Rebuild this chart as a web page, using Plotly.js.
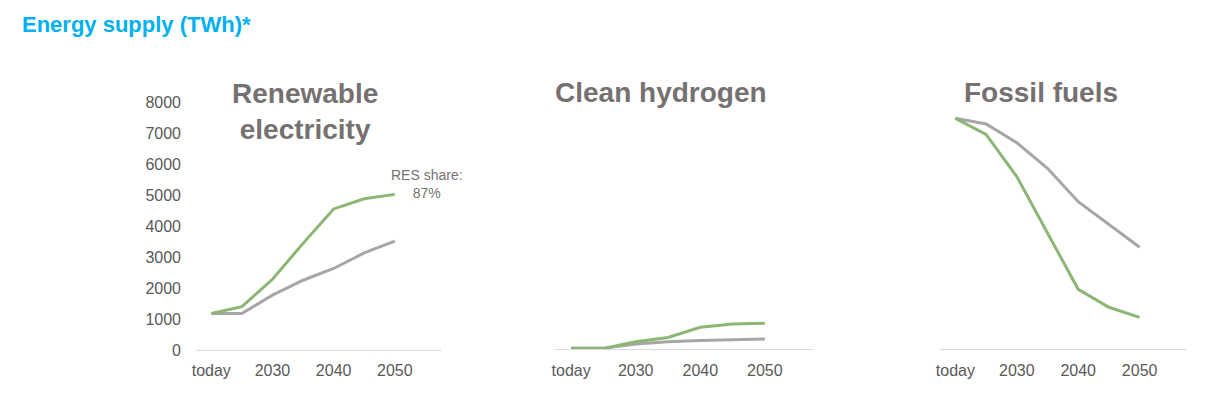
<!DOCTYPE html>
<html>
<head>
<meta charset="utf-8">
<script src="https://cdn.plot.ly/plotly-3.0.1.min.js"></script>
<style>html,body{margin:0;padding:0;background:#fff;}#chart{width:1221px;height:399px;}</style>
</head>
<body>
<div id="chart"></div>
<script>
const categories = ["today", "2025", "2030", "2035", "2040", "2045", "2050", " "];
const years = ["today", "2025", "2030", "2035", "2040", "2045", "2050"];
const tickLabels = ["today", "2030", "2040", "2050"];

const renewableGreen = [1180, 1400, 2280, 3440, 4550, 4880, 5020];
const renewableGrey  = [1180, 1180, 1770, 2250, 2630, 3130, 3510];
const hydrogenGreen  = [30, 30, 245, 380, 710, 815, 840];
const hydrogenGrey   = [30, 30, 170, 245, 280, 310, 335];
const fossilGreen    = [7450, 6935, 5570, 3740, 1935, 1355, 1030];
const fossilGrey     = [7450, 7270, 6665, 5840, 4760, 4010, 3290];

const yTicks = [0, 1000, 2000, 3000, 4000, 5000, 6000, 7000, 8000];

const GREEN = "#8BB674";
const GREY = "#A6A6A6";
const TITLE = "#767171";
const FONT = "Liberation Sans, Arial, sans-serif";

function line(x, y, color, xa, ya) {
  return {x: x, y: y, type: "scatter", mode: "lines", xaxis: xa, yaxis: ya,
          line: {color: color, width: 3}, hoverinfo: "skip", showlegend: false};
}

const data = [
  line(years, renewableGrey, GREY, "x", "y"),
  line(years, renewableGreen, GREEN, "x", "y"),
  line(years, hydrogenGrey, GREY, "x2", "y2"),
  line(years, hydrogenGreen, GREEN, "x2", "y2"),
  line(years, fossilGrey, GREY, "x3", "y3"),
  line(years, fossilGreen, GREEN, "x3", "y3")
];

function xAxis(domain, anchor) {
  return {domain: domain, anchor: anchor, type: "category", categoryorder: "array",
          categoryarray: categories, range: [-0.5, 7.5], tickmode: "array",
          tickvals: tickLabels, ticktext: tickLabels, showline: true,
          linecolor: "#D9D9D9", linewidth: 1, showgrid: false, zeroline: false,
          ticks: "", ticklabelstandoff: 6, fixedrange: true,
          tickfont: {family: FONT, size: 16, color: "#595959"}};
}
function yAxis(domain, anchor, labels) {
  return {domain: domain, anchor: anchor, range: [0, 8000], tickmode: "array",
          tickvals: yTicks, showticklabels: labels, showline: false, showgrid: false,
          zeroline: false, ticks: "", ticklabelstandoff: 14, fixedrange: true,
          tickfont: {family: FONT, size: 16, color: "#595959"}};
}

const yd1 = [49/399, 297/399];
const yd2 = [49.7/399, 297.7/399];

const layout = {
  width: 1221, height: 399,
  margin: {l: 0, r: 0, t: 0, b: 0},
  paper_bgcolor: "#FFFFFF", plot_bgcolor: "rgba(0,0,0,0)",
  showlegend: false,
  xaxis: xAxis([196/1221, 440.7/1221], "y"),
  yaxis: yAxis(yd1, "x", true),
  xaxis2: xAxis([555/1221, 813.3/1221], "y2"),
  yaxis2: yAxis(yd2, "x2", false),
  xaxis3: xAxis([940/1221, 1185.7/1221], "y3"),
  yaxis3: yAxis(yd2, "x3", false),
  annotations: [
    {xref: "paper", yref: "paper", x: 20/1221, y: 1 - 25/399, xanchor: "left", yanchor: "middle",
     text: "<b>Energy supply (TWh)*</b>", showarrow: false,
     font: {family: FONT, size: 22, color: "#00B0F0"}},
    {xref: "paper", yref: "paper", x: 305/1221, y: 1 - 111/399, xanchor: "center", yanchor: "middle",
     text: "<b>Renewable<br>electricity</b>", showarrow: false, align: "center",
     font: {family: FONT, size: 28, color: TITLE}},
    {xref: "paper", yref: "paper", x: 661/1221, y: 1 - 93/399, xanchor: "center", yanchor: "middle",
     text: "<b>Clean hydrogen</b>", showarrow: false,
     font: {family: FONT, size: 28, color: TITLE}},
    {xref: "paper", yref: "paper", x: 1040.5/1221, y: 1 - 92.7/399, xanchor: "center", yanchor: "middle",
     text: "<b>Fossil fuels</b>", showarrow: false,
     font: {family: FONT, size: 28, color: TITLE}},
    {xref: "paper", yref: "paper", x: 426.7/1221, y: 1 - 183.5/399, xanchor: "center", yanchor: "middle",
     text: "RES share:<br>87%", showarrow: false, align: "center",
     font: {family: FONT, size: 14, color: "#767171"}}
  ]
};

Plotly.newPlot("chart", data, layout, {displayModeBar: false, staticPlot: true});
</script>
</body>
</html>
